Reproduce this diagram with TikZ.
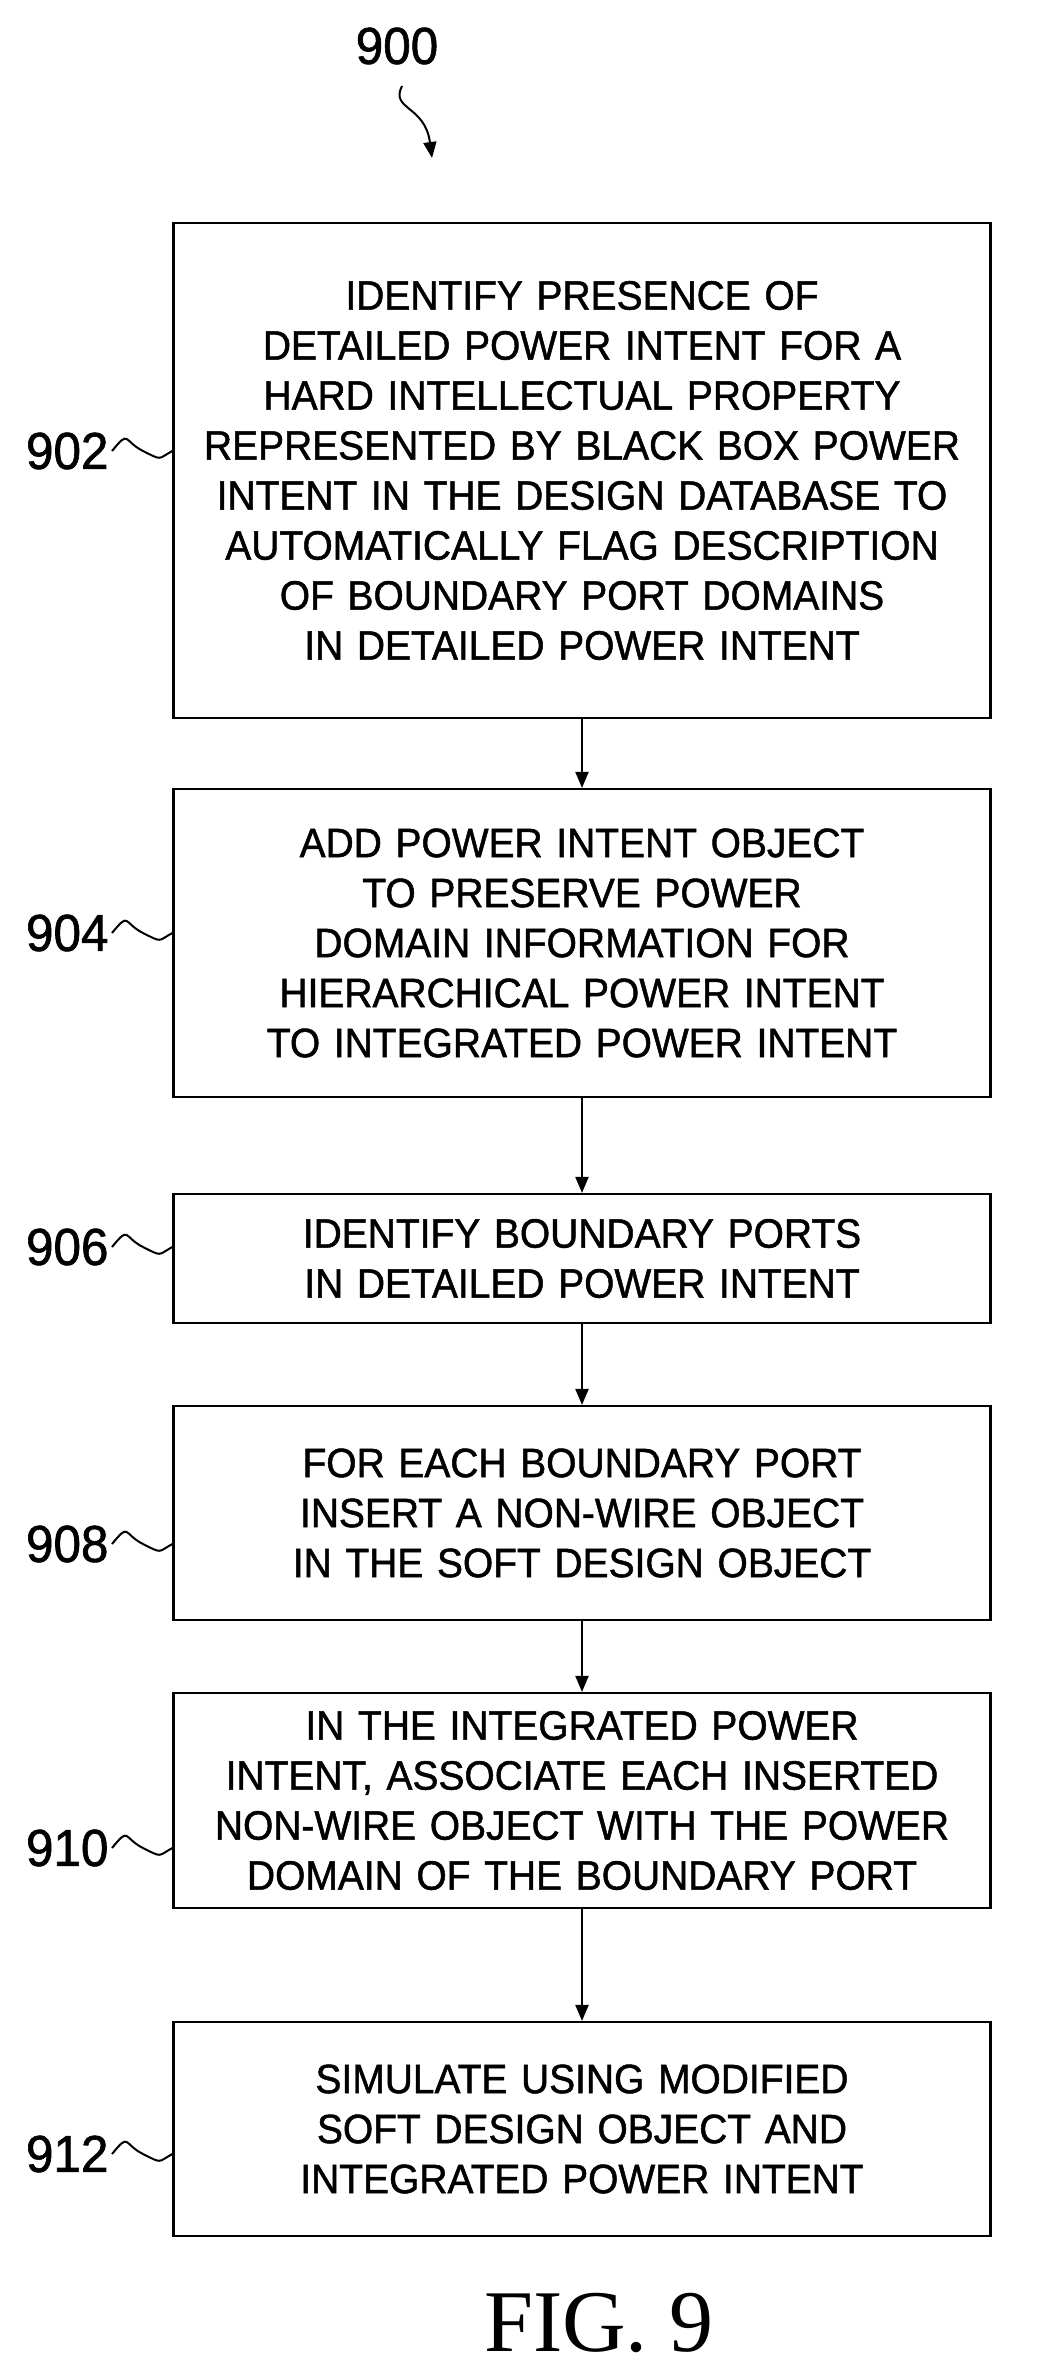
\documentclass[tikz,border=0pt]{standalone}
\usepackage{fontspec}
\setmainfont{Liberation Sans}[FakeStretch=0.95, FakeBold=1.2]
\newfontfamily\figfont{Liberation Serif}
\usetikzlibrary{arrows.meta}
\tikzset{
  stepbox/.style={draw, line width=2.2pt, text width=810pt, align=center,
    inner sep=0pt, font=\fontsize{41}{50}\selectfont},
  flow/.style={line width=2.2pt, -{Triangle[length=16pt,width=13pt]}},
  tag/.style={font=\fontsize{52}{56}\selectfont, anchor=east},
}
\begin{document}
\begin{tikzpicture}[x=1pt, y=-1pt]
\useasboundingbox (0,0) rectangle (1047,2371);
% boxes
\node[stepbox, minimum width=817pt, minimum height=495pt] (b902) at (582,470.5) {IDENTIFY PRESENCE OF\\DETAILED POWER INTENT FOR A\\HARD INTELLECTUAL PROPERTY\\REPRESENTED BY BLACK BOX POWER\\INTENT IN THE DESIGN DATABASE TO\\AUTOMATICALLY FLAG DESCRIPTION\\OF BOUNDARY PORT DOMAINS\\IN DETAILED POWER INTENT};
\node[stepbox, minimum width=817pt, minimum height=308pt] (b904) at (582,943) {ADD POWER INTENT OBJECT\\TO PRESERVE POWER\\DOMAIN INFORMATION FOR\\HIERARCHICAL POWER INTENT\\TO INTEGRATED POWER INTENT};
\node[stepbox, minimum width=817pt, minimum height=129pt] (b906) at (582,1258.5) {IDENTIFY BOUNDARY PORTS\\IN DETAILED POWER INTENT};
\node[stepbox, minimum width=817pt, minimum height=214pt] (b908) at (582,1513) {FOR EACH BOUNDARY PORT\\INSERT A NON-WIRE OBJECT\\IN THE SOFT DESIGN OBJECT};
\node[stepbox, minimum width=817pt, minimum height=215pt] (b910) at (582,1800.5) {IN THE INTEGRATED POWER\\INTENT, ASSOCIATE EACH INSERTED\\NON-WIRE OBJECT WITH THE POWER\\DOMAIN OF THE BOUNDARY PORT};
\node[stepbox, minimum width=817pt, minimum height=214pt] (b912) at (582,2129) {SIMULATE USING MODIFIED\\SOFT DESIGN OBJECT AND\\INTEGRATED POWER INTENT};
% connectors
\draw[flow] (b902) -- (b904);
\draw[flow] (b904) -- (b906);
\draw[flow] (b906) -- (b908);
\draw[flow] (b908) -- (b910);
\draw[flow] (b910) -- (b912);
% reference numerals
\foreach \n/\y in {902/451, 904/933, 906/1247, 908/1544, 910/1848, 912/2154} {
  \node[tag] (l\n) at (112,\y) {\n};
  \draw[line width=2pt] (l\n.east) .. controls +(18,-22) and +(-20,-10) .. +(31,0)
    .. controls +(20,10) and +(-15,8) .. (b\n.west |- l\n.east);
}
\node[font=\fontsize{52}{56}\selectfont] (l900) at (397,46) {900};
\coordinate (p900) at (432,158);
\draw[line width=2pt, -{Triangle[length=16pt,width=13pt]}] (402,86)
  .. controls (390,110) and (425,105) .. (p900);
\node[font=\fontsize{88}{90}\figfont] (fig) at (599,2323) {FIG. 9};
\end{tikzpicture}
\end{document}
